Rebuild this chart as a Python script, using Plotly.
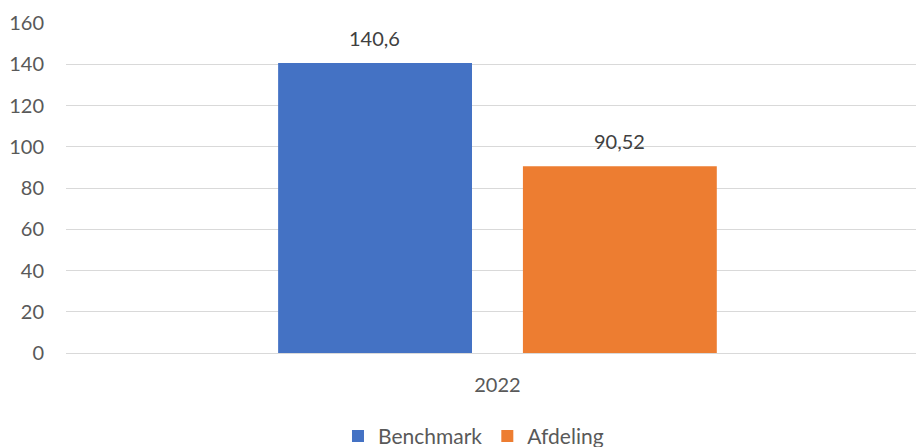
import plotly.graph_objects as go

categories = ["2022"]
series_names = ["Benchmark", "Afdeling"]
benchmark = [140.6]
afdeling = [90.52]
label_texts = ["140,6", "90,52"]
colors = ["#4472C4", "#ED7D31"]
y_ticks = [0, 20, 40, 60, 80, 100, 120, 140, 160]

FONT = "Lato, Calibri, sans-serif"

fig = go.Figure()
for name, vals, col in zip(series_names, [benchmark, afdeling], colors):
    fig.add_trace(go.Bar(x=categories, y=vals, name=name, marker_color=col,
                         marker_line_width=0))

# data labels placed above the bars
offsets = [-0.5, 0.5]
for vals, txt, off in zip([benchmark, afdeling], label_texts, offsets):
    fig.add_annotation(x=0, y=vals[0], text=txt, showarrow=False,
                       xref="x", yref="y", yanchor="bottom", yshift=11,
                       xshift=off * 245,
                       font=dict(family=FONT, size=20, color="#404040"))

fig.update_layout(
    width=916, height=447,
    margin=dict(l=66, r=0, t=23, b=94, autoexpand=False),
    paper_bgcolor="white", plot_bgcolor="white",
    barmode="group", bargap=0.424, bargroupgap=0.208,
    font=dict(family=FONT, size=20, color="#595959"),
    showlegend=True,
    legend=dict(orientation="h", x=0.4794, xanchor="center",
                yref="container", y=0.024, yanchor="middle",
                font=dict(family=FONT, size=21, color="#595959"),
                itemwidth=30, tracegroupgap=0, traceorder="normal"),
)
fig.update_xaxes(range=[-0.5076, 0.4924], type="category", showgrid=False,
                 showline=False, ticks="", ticklabelstandoff=18,
                 tickfont=dict(family=FONT, size=20, color="#595959"))
fig.update_yaxes(range=[0, 160], tickvals=y_ticks, showgrid=True,
                 gridcolor="#D9D9D9", gridwidth=1.3, zeroline=True,
                 zerolinecolor="#D9D9D9", zerolinewidth=1.3, showline=False,
                 ticks="", ticklabelstandoff=21,
                 tickfont=dict(family=FONT, size=20, color="#595959"))

fig.write_html("out.html", config={"displayModeBar": False},
               post_script="document.body.style.margin='0';document.body.style.overflow='hidden';")
